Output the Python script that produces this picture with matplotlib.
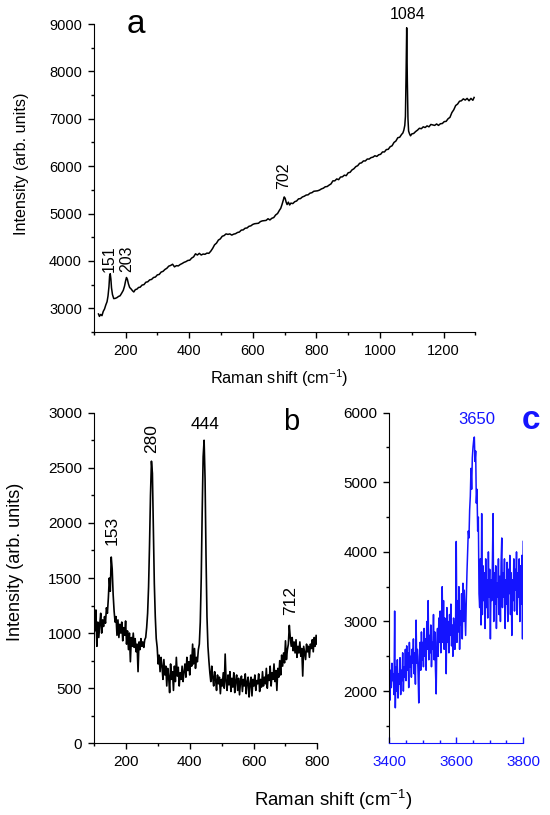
import numpy as np
import matplotlib
matplotlib.use('Agg')
import matplotlib.pyplot as plt
from matplotlib.ticker import MultipleLocator

plt.rcParams['font.family'] = ['Liberation Sans', 'DejaVu Sans']
plt.rcParams['mathtext.fontset'] = 'custom'
plt.rcParams['mathtext.rm'] = 'Liberation Sans'
plt.rcParams['mathtext.it'] = 'Liberation Sans:italic'

# panel a: broad spectrum
shift_a = [115, 118, 122, 126, 130, 134, 138, 142, 145, 148,
           150, 152, 154, 156, 159, 163, 168, 173, 178, 183,
           188, 193, 197, 200, 203, 206, 209, 213, 218, 222,
           226, 231, 236, 241, 246, 252, 258, 264, 270, 276,
           282, 288, 294, 300, 306, 312, 318, 324, 330, 336,
           342, 348, 354, 360, 366, 372, 378, 384, 390, 396,
           402, 408, 414, 420, 426, 432, 438, 444, 450, 456,
           462, 468, 474, 480, 486, 492, 498, 504, 510, 516,
           522, 528, 534, 540, 546, 552, 558, 564, 570, 576,
           582, 588, 594, 600, 606, 612, 618, 624, 630, 636,
           642, 648, 654, 660, 666, 672, 678, 684, 688, 692,
           696, 699, 702, 705, 708, 712, 716, 720, 726, 732,
           738, 744, 750, 756, 762, 768, 774, 780, 786, 792,
           798, 804, 810, 816, 822, 828, 834, 840, 846, 852,
           858, 864, 870, 876, 882, 888, 894, 900, 906, 912,
           918, 924, 930, 936, 942, 948, 954, 960, 966, 972,
           978, 984, 990, 996, 1002, 1008, 1014, 1020, 1026, 1032,
           1038, 1044, 1050, 1056, 1062, 1068, 1072, 1075, 1078, 1080,
           1082, 1084, 1086, 1088, 1090, 1093, 1096, 1100, 1106, 1112,
           1118, 1124, 1130, 1136, 1142, 1148, 1154, 1160, 1166, 1172,
           1178, 1184, 1190, 1196, 1202, 1208, 1214, 1220, 1226, 1232,
           1238, 1244, 1250, 1256, 1262, 1268, 1274, 1280, 1286, 1292,
           1296]
int_a = [2880, 2830, 2870, 2845, 2935, 2985, 3070, 3140, 3260, 3460,
         3680, 3730, 3620, 3430, 3290, 3205, 3210, 3225, 3250, 3265,
         3320, 3380, 3470, 3570, 3650, 3610, 3520, 3440, 3405, 3370,
         3345, 3395, 3405, 3440, 3445, 3490, 3500, 3550, 3560, 3600,
         3610, 3650, 3660, 3705, 3715, 3765, 3780, 3820, 3845, 3890,
         3905, 3930, 3875, 3900, 3895, 3925, 3945, 3970, 3985, 4010,
         4015, 4060, 4085, 4150, 4125, 4160, 4125, 4145, 4140, 4165,
         4160, 4205, 4265, 4340, 4375, 4440, 4465, 4520, 4535, 4570,
         4560, 4570, 4545, 4565, 4575, 4600, 4610, 4650, 4655, 4690,
         4695, 4730, 4740, 4770, 4785, 4790, 4795, 4830, 4845, 4850,
         4855, 4890, 4865, 4900, 4915, 4970, 5000, 5070, 5110, 5190,
         5280, 5350, 5320, 5240, 5190, 5240, 5180, 5220, 5210, 5250,
         5265, 5310, 5315, 5350, 5365, 5390, 5395, 5430, 5440, 5470,
         5475, 5480, 5495, 5520, 5535, 5565, 5570, 5600, 5625, 5690,
         5690, 5730, 5715, 5770, 5775, 5810, 5800, 5860, 5870, 5920,
         5945, 5990, 6010, 6060, 6070, 6110, 6110, 6150, 6150, 6180,
         6190, 6220, 6205, 6240, 6250, 6300, 6300, 6350, 6355, 6410,
         6430, 6500, 6530, 6600, 6610, 6670, 6700, 6760, 6860, 7050,
         7900, 8920, 7800, 7000, 6740, 6680, 6640, 6680, 6690, 6730,
         6760, 6800, 6790, 6830, 6815, 6850, 6830, 6880, 6870, 6860,
         6890, 6860, 6895, 6900, 6940, 6945, 7000, 7030, 7130, 7190,
         7280, 7310, 7370, 7380, 7420, 7395, 7430, 7380, 7430, 7390,
         7450]

# panel b: low-wavenumber spectrum, sampled every 3 cm-1 from 100
int_b = [1150, 1020, 1210, 880, 1100, 960, 1080, 1180, 1000, 1120,
         1060, 1150, 1090, 1230, 1180, 1320,
         1500, 1380, 1690, 1580, 1350, 1200, 1100,
         1150, 980, 1120, 960, 1080, 1000, 1100, 930, 1050, 980, 1110, 900, 1020,
         850, 1000, 740, 960, 880, 1000, 870, 950, 830, 900, 650, 920, 850, 950,
         880, 920, 870, 940,
         960, 1050, 1180, 1420, 1800, 2250, 2560, 2450, 1950, 1450, 1150, 950,
         870, 720, 800, 650, 780,
         700, 580, 760, 620, 700, 520, 680, 600, 460, 720, 580, 650, 480, 700,
         560, 780, 610, 690, 520, 640, 580, 700, 560, 650, 720, 600, 780, 660,
         740, 620,
         800, 700, 900, 720, 860, 680, 780, 740, 850, 900,
         1100, 1500, 2100, 2600, 2750, 2400, 1700, 1150, 880, 750,
         640, 560, 700, 600, 520, 650, 580, 480, 620, 540, 600, 450, 580, 520,
         640, 500, 810, 560, 480, 620, 530, 650, 470, 590, 510, 640, 460, 570,
         620, 480, 590, 440, 560, 610, 470, 580, 520, 630, 450, 560, 600, 420,
         540, 600, 430, 580, 520, 620, 480, 570, 540, 630, 470, 580, 510, 650,
         520, 600, 540, 680, 500, 620, 570, 700, 520, 640, 580, 720, 560, 660,
         480, 680, 600,
         750, 620, 800, 700, 820, 730, 930, 760, 850, 900, 1070, 960, 880, 960,
         840, 920, 820, 940, 780, 880, 820, 920, 790, 860, 610, 880, 820, 760,
         900, 830, 880, 780, 900, 860, 940, 830, 960, 880, 980, 900]
shift_b = np.arange(100, 100 + 3 * len(int_b), 3)

# panel c: OH region, sampled every 2 cm-1 from 3400
int_c = [2480, 1870, 2300, 2050, 2400, 2150, 2250, 1950, 3150, 1760,
         2350, 2000, 2450, 1900, 2250, 2100, 2480, 1950, 2300, 2150,
         2550, 2000, 2350, 2200, 2600,
         2150, 2650, 2300, 2550, 2050, 2700, 2350, 2500, 2200, 2600,
         2400, 2750, 2250, 2550, 2100, 3020, 2400, 2600, 2250, 1830,
         2500, 2700, 2300, 2850, 2450,
         2700, 2350, 2900, 2500, 2750, 2300, 3000, 2600, 3300, 2450,
         2800, 2550, 2950, 2350, 2700, 2600, 3100, 2450, 2850, 2300,
         1960, 2700, 2900, 2500, 3050,
         2700, 3150, 2550, 2950, 3500, 2700, 3300, 2600, 3050, 2850,
         2250, 3200, 2700, 3000, 2550, 3100, 2800, 3250, 2650, 2950,
         2500, 3050, 2850, 2600, 3000,
         4150, 2700, 3300, 2850, 3500, 2600, 3150, 2950, 3400, 2750,
         3550, 3000, 3450, 3100, 2800,
         3300, 3700, 4000, 4300, 4200, 4600, 4800, 5200, 4900, 5350,
         5500, 5600, 5650, 5300, 5450, 4700, 4900, 4300, 4500, 3400,
         3200, 3900, 2950, 4550, 3100, 3800, 3300, 3700, 2900, 3900,
         3200, 3600, 3050, 4000, 3350, 3750, 2750, 3600, 3300, 3850,
         4550, 3000, 3700, 3250, 3800, 2900, 3550, 3350, 3900, 3100,
         3650, 3000, 3850, 4200, 3200, 3700, 3350, 3900, 2900, 3600,
         3250, 3850, 3000, 3750, 3400, 3950, 3100, 3700, 2800, 3600,
         3300, 3900, 3150, 3750, 3450, 4000, 3100, 3700, 3350, 3900,
         3000, 3800, 3250, 3950, 2750, 4150]
shift_c = np.arange(3400, 3400 + 2 * len(int_c), 2)

blue = '#1414ff'
W, H = 550, 815


def box(l, t, r, b):
    return [l / W, 1 - b / H, (r - l) / W, (b - t) / H]


def style(ax, fs):
    ax.spines['top'].set_visible(False)
    ax.spines['right'].set_visible(False)
    ax.tick_params(which='both', direction='out', width=1, labelsize=fs, pad=4)
    ax.tick_params(which='major', length=4.5)
    ax.tick_params(which='minor', length=2.5)


fig = plt.figure(figsize=(5.5, 8.15), dpi=100)
ax_a = fig.add_axes(box(93.7, 24, 475.4, 332))
ax_b = fig.add_axes(box(94, 412.7, 317.4, 743.3))
ax_c = fig.add_axes(box(389.3, 412.7, 523.2, 743.3))

# a
ax_a.plot(shift_a, int_a, color='k', lw=1.1)
ax_a.set_xlim(100, 1300)
ax_a.set_ylim(2500, 9000)
ax_a.xaxis.set_major_locator(MultipleLocator(200))
ax_a.xaxis.set_minor_locator(MultipleLocator(100))
ax_a.yaxis.set_major_locator(MultipleLocator(1000))
ax_a.yaxis.set_minor_locator(MultipleLocator(500))
style(ax_a, 10.5)
ax_a.text(233, 8995, 'a', fontsize=24, ha='center', va='center', clip_on=False)
ax_a.text(1088, 9190, '1084', fontsize=11.5, ha='center', va='center', clip_on=False)
ax_a.text(698, 5792, '702', fontsize=11.5, rotation=90, ha='center', va='center')
ax_a.text(149, 4040, '151', fontsize=11.5, rotation=90, ha='center', va='center')
ax_a.text(205, 4040, '203', fontsize=11.5, rotation=90, ha='center', va='center')

# b
ax_b.plot(shift_b, int_b, color='k', lw=1.2)
ax_b.set_xlim(100, 800)
ax_b.set_ylim(0, 3000)
ax_b.xaxis.set_major_locator(MultipleLocator(200))
ax_b.xaxis.set_minor_locator(MultipleLocator(100))
ax_b.yaxis.set_major_locator(MultipleLocator(500))
ax_b.yaxis.set_minor_locator(MultipleLocator(250))
style(ax_b, 11)
ax_b.text(717, 2918, 'b', fontsize=21, ha='center', va='center')
ax_b.text(156, 1929, '153', fontsize=12.5, rotation=90, ha='center', va='center')
ax_b.text(280, 2768, '280', fontsize=12.5, rotation=90, ha='center', va='center')
ax_b.text(447, 2897, '444', fontsize=12.5, ha='center', va='center')
ax_b.text(715, 1300, '712', fontsize=12.5, rotation=90, ha='center', va='center')

# c
ax_c.plot(shift_c, int_c, color=blue, lw=1.1)
ax_c.set_xlim(3400, 3800)
ax_c.set_ylim(1250, 6000)
ax_c.xaxis.set_major_locator(MultipleLocator(200))
ax_c.xaxis.set_minor_locator(MultipleLocator(50))
ax_c.yaxis.set_major_locator(MultipleLocator(1000))
ax_c.yaxis.set_minor_locator(MultipleLocator(500))
style(ax_c, 11)
ax_c.spines['bottom'].set_color(blue)
ax_c.tick_params(axis='x', which='both', direction='in', colors=blue, pad=8.5)
ax_c.text(3661, 5900, '3650', fontsize=12, color=blue, ha='center', va='center')
ax_c.text(3823, 5888, 'c', fontsize=24, fontweight='bold', color=blue,
          ha='center', va='center', clip_on=False)

# axis titles
fig.text(21.7 / W, 1 - 164 / H, 'Intensity (arb. units)', rotation=90,
         fontsize=11.6, ha='center', va='center')
fig.text(278.8 / W, 1 - 378 / H, 'Raman shift (cm$^{-1}$)', fontsize=11.7,
         ha='center', va='center')
fig.text(15.8 / W, 1 - 561.7 / H, 'Intensity (arb. units)', rotation=90,
         fontsize=13, ha='center', va='center')
fig.text(333 / W, 1 - 800 / H, 'Raman shift (cm$^{-1}$)', fontsize=13.4,
         ha='center', va='center')

fig.savefig('out.png', dpi=100)
